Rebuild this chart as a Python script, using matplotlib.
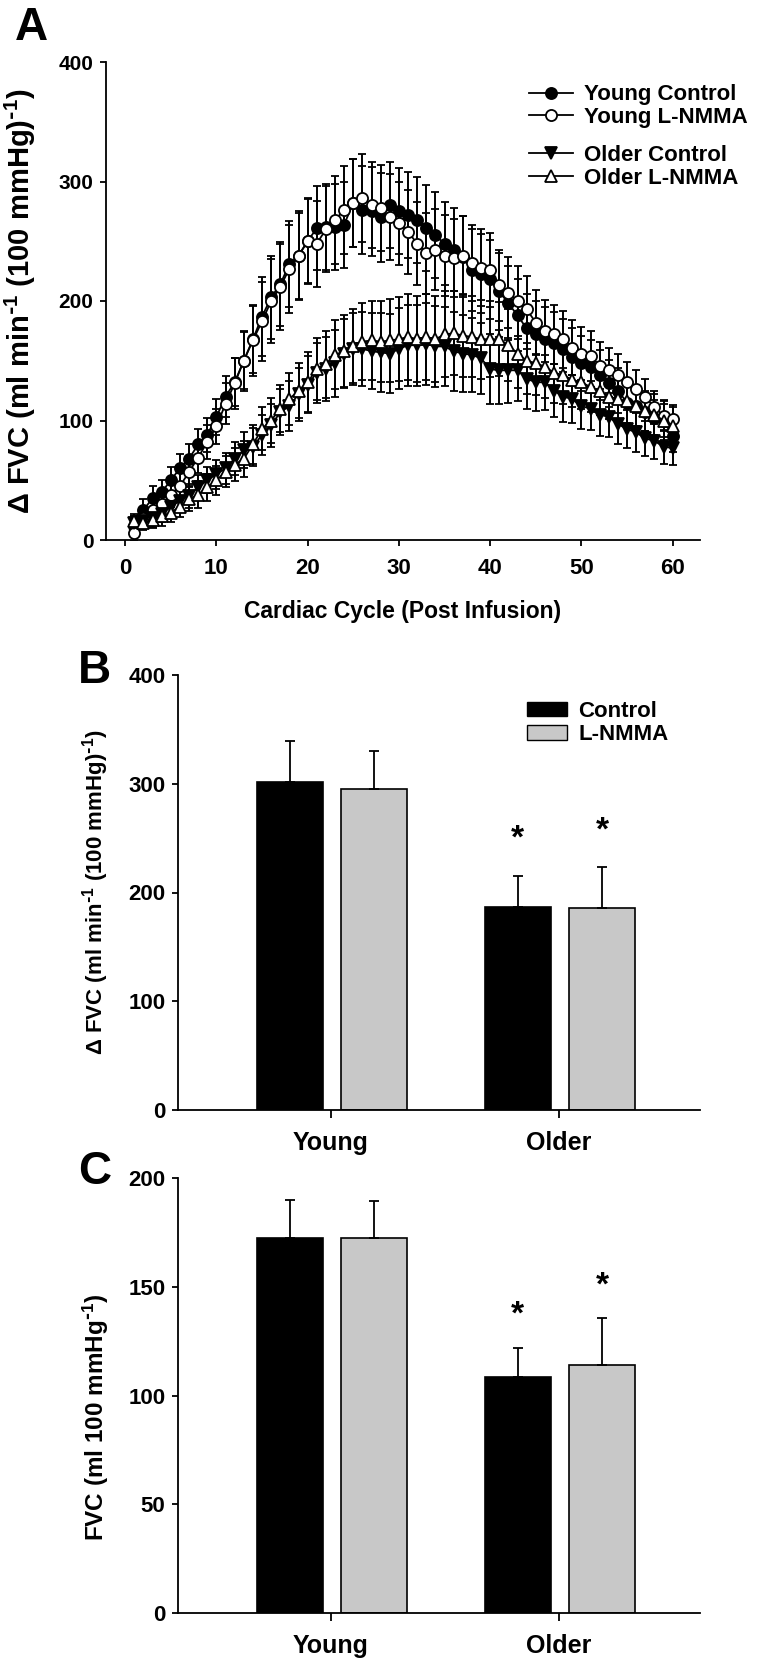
import numpy as np
import matplotlib
matplotlib.use("Agg")
import matplotlib.pyplot as plt
from matplotlib.lines import Line2D
from matplotlib.patches import Patch

plt.rcParams['font.family'] = ['Liberation Sans', 'DejaVu Sans']
plt.rcParams['font.weight'] = 'bold'
plt.rcParams['axes.labelweight'] = 'bold'
plt.rcParams['mathtext.default'] = 'regular'
plt.rcParams['axes.linewidth'] = 1.3

# ---- Panel A: beat-by-beat response (mean, SEM) ----
cycles = list(range(1, 61))
young_ctrl = [12, 25, 35, 40, 50, 60, 68, 80, 88, 103,
              120, 132, 150, 168, 187, 203, 214, 231, 238, 250,
              261, 262, 262, 264, 282, 276, 275, 270, 280, 275,
              272, 268, 261, 255, 248, 243, 237, 226, 223, 218,
              208, 198, 188, 177, 172, 168, 165, 160, 153, 148,
              145, 138, 131, 125, 115, 112, 107, 102, 100, 87]
young_ctrl_sem = [8, 9, 10, 10, 11, 12, 12, 13, 14, 15,
                  17, 20, 24, 28, 33, 35, 35, 36, 36, 35,
                  35, 36, 36, 36, 37, 37, 37, 37, 36, 36,
                  36, 36, 36, 36, 35, 35, 34, 34, 33, 33,
                  32, 31, 30, 29, 28, 27, 26, 25, 24, 23,
                  22, 21, 20, 19, 18, 17, 16, 15, 14, 13]
young_lnmma = [6, 18, 25, 30, 38, 45, 57, 69, 82, 95,
               114, 131, 150, 167, 183, 200, 212, 227, 238, 250,
               248, 260, 268, 276, 282, 286, 280, 278, 270, 265,
               258, 248, 240, 243, 238, 236, 238, 232, 228, 226,
               213, 207, 200, 193, 182, 175, 172, 168, 161, 156,
               154, 146, 142, 138, 132, 126, 120, 111, 104, 101]
young_lnmma_sem = [7, 8, 9, 10, 10, 11, 12, 13, 14, 15,
                   17, 21, 25, 30, 33, 35, 36, 37, 37, 36,
                   36, 36, 37, 37, 37, 37, 36, 36, 36, 35,
                   35, 35, 34, 34, 34, 33, 33, 32, 32, 31,
                   30, 30, 29, 28, 27, 26, 25, 24, 23, 22,
                   21, 20, 19, 18, 17, 16, 15, 14, 13, 12]
older_ctrl = [14, 16, 18, 22, 28, 33, 37, 44, 50, 55,
              60, 68, 75, 78, 88, 96, 107, 112, 122, 130,
              140, 143, 148, 156, 160, 160, 158, 157, 156, 160,
              163, 163, 164, 162, 162, 158, 156, 155, 152, 143,
              142, 142, 142, 135, 132, 132, 125, 120, 118, 112,
              110, 105, 103, 97, 93, 90, 85, 83, 78, 77]
older_ctrl_sem = [6, 6, 7, 7, 8, 9, 10, 10, 11, 12,
                  13, 14, 15, 16, 17, 18, 19, 21, 22, 24,
                  25, 27, 28, 29, 30, 31, 32, 33, 33, 34,
                  34, 34, 34, 34, 33, 33, 32, 31, 30, 29,
                  28, 27, 26, 25, 24, 23, 22, 21, 20, 19,
                  18, 18, 17, 17, 16, 16, 15, 15, 14, 14]
older_lnmma = [16, 14, 17, 20, 23, 28, 34, 38, 44, 50,
               57, 63, 68, 80, 93, 100, 110, 118, 125, 132,
               143, 147, 155, 158, 162, 166, 167, 166, 167, 168,
               170, 168, 170, 168, 172, 173, 171, 170, 168, 168,
               168, 163, 156, 150, 148, 145, 140, 138, 134, 132,
               128, 125, 120, 118, 116, 112, 108, 105, 100, 95]
older_lnmma_sem = [6, 6, 7, 8, 8, 9, 10, 11, 11, 12,
                   13, 14, 15, 16, 18, 19, 20, 22, 23, 25,
                   26, 28, 29, 30, 31, 32, 33, 34, 35, 35,
                   36, 36, 36, 36, 36, 35, 35, 34, 33, 32,
                   31, 30, 29, 28, 27, 26, 25, 24, 23, 22,
                   21, 20, 19, 19, 18, 18, 17, 17, 16, 16]

# ---- Panels B and C: group means (SEM) ----
groups = ['Young', 'Older']
dfvc_ctrl = [302, 187]
dfvc_ctrl_sem = [37, 28]
dfvc_lnmma = [295, 186]
dfvc_lnmma_sem = [35, 37]
fvc_ctrl = [172.5, 108.5]
fvc_ctrl_sem = [17.5, 13.5]
fvc_lnmma = [172.5, 114]
fvc_lnmma_sem = [17, 21.5]

DFVC_LABEL = r'Δ FVC (ml min$^{\text{-}1}$ (100 mmHg)$^{\text{-}1}$)'
FVC_LABEL = r'FVC (ml 100 mmHg$^{\text{-}1}$)'

W, H = 776, 1659
fig = plt.figure(figsize=(W / 100, H / 100), dpi=100)


def box(l, t, r, b):
    return [l / W, 1 - b / H, (r - l) / W, (b - t) / H]


def style_axes(ax):
    ax.spines['top'].set_visible(False)
    ax.spines['right'].set_visible(False)
    ax.tick_params(direction='out', length=4.6, width=1.3, pad=4.5)


# ---------- A ----------
axA = fig.add_axes(box(106, 62, 700, 540))
series = [
    (young_ctrl, young_ctrl_sem, 'o', 'black', 'Young Control', 8),
    (young_lnmma, young_lnmma_sem, 'o', 'white', 'Young L-NMMA', 8),
    (older_ctrl, older_ctrl_sem, 'v', 'black', 'Older Control', 8),
    (older_lnmma, older_lnmma_sem, '^', 'white', 'Older L-NMMA', 8),
]
for vals, sem, mk, fc, lab, ms in series:
    axA.errorbar(cycles, vals, yerr=sem, color='black', lw=1.3, marker=mk,
                 ms=ms, mfc=fc, mec='black', mew=1.3, elinewidth=1.4,
                 capsize=3, capthick=1.4)
axA.set_xlim(-2.1, 63)
axA.set_ylim(0, 400)
axA.set_xticks(range(0, 61, 10))
axA.set_yticks(range(0, 401, 100))
style_axes(axA)
axA.tick_params(axis='x', pad=8, labelsize=16)
axA.tick_params(axis='y', labelsize=15)
axA.set_xlabel('Cardiac Cycle (Post Infusion)', fontsize=16.5)
axA.xaxis.set_label_coords(0.5, -0.126)
axA.set_ylabel(DFVC_LABEL, fontsize=21)
axA.yaxis.set_label_coords(-0.114, 0.5)

hs = []
for vals, sem, mk, fc, lab, ms in series:
    hs.append(Line2D([], [], color='black', lw=1.3, marker=mk, ms=ms,
                     mfc=fc, mec='black', mew=1.3))
labs = [s[4] for s in series]
kw = dict(frameon=False, handlelength=2.0, handletextpad=0.5,
          labelspacing=0.08, borderpad=0, borderaxespad=0, fontsize=16,
          loc='upper left')
leg1 = axA.legend(hs[:2], labs[:2], bbox_to_anchor=(0.712, 0.953), **kw)
axA.add_artist(leg1)
axA.legend(hs[2:], labs[2:], bbox_to_anchor=(0.712, 0.826), **kw)


# ---------- B & C ----------
def bar_panel(ax, ctrl, ctrl_sem, lnmma, lnmma_sem, ymax, step, star_off):
    x = np.arange(len(groups))
    w = 0.29
    xc = x - 0.18
    xl = x + 0.19
    ekw = dict(elinewidth=1.3, capthick=1.3, ecolor='black')
    ax.bar(xc, ctrl, w, color='black', edgecolor='black', lw=1.2,
           yerr=[np.zeros(len(ctrl)), ctrl_sem], capsize=3.6, error_kw=ekw,
           label='Control')
    ax.bar(xl, lnmma, w, color='#c8c8c8', edgecolor='black', lw=1.2,
           yerr=[np.zeros(len(lnmma)), lnmma_sem], capsize=3.6, error_kw=ekw,
           label='L-NMMA')
    # older vs young
    ax.text(xc[1], ctrl[1] + ctrl_sem[1] + star_off, '*', ha='center',
            va='baseline', fontsize=24, fontweight='bold')
    ax.text(xl[1], lnmma[1] + lnmma_sem[1] + star_off, '*', ha='center',
            va='baseline', fontsize=24, fontweight='bold')
    ax.set_xlim(-0.67, 1.62)
    ax.set_ylim(0, ymax)
    ax.set_yticks(np.arange(0, ymax + 1, step))
    ax.set_xticks(x)
    ax.set_xticklabels(groups)
    style_axes(ax)
    ax.tick_params(axis='x', length=6, pad=9, labelsize=18)
    ax.tick_params(axis='y', labelsize=16)


axB = fig.add_axes(box(178, 675, 700, 1110))
bar_panel(axB, dfvc_ctrl, dfvc_ctrl_sem, dfvc_lnmma, dfvc_lnmma_sem,
          400, 100, 26)
axB.set_ylabel(DFVC_LABEL, fontsize=16)
axB.yaxis.set_label_coords(-0.128, 0.5)
axB.legend(handles=[Patch(facecolor='black', edgecolor='black'),
                    Patch(facecolor='#c8c8c8', edgecolor='black')],
           labels=['Control', 'L-NMMA'], loc='upper left',
           bbox_to_anchor=(0.669, 0.94), frameon=False, handlelength=1.8,
           handleheight=0.6, handletextpad=0.5, labelspacing=0.1,
           borderpad=0, borderaxespad=0,
           prop=dict(size=16, weight='bold'))

axC = fig.add_axes(box(178, 1178, 700, 1613))
bar_panel(axC, fvc_ctrl, fvc_ctrl_sem, fvc_lnmma, fvc_lnmma_sem,
          200, 50, 11)
axC.set_ylabel(FVC_LABEL, fontsize=17.5)
axC.yaxis.set_label_coords(-0.128, 0.45)

# panel letters
fig.text(15 / W, 1 - 40 / H, 'A', fontsize=33, fontweight='bold')
fig.text(78 / W, 1 - 683 / H, 'B', fontsize=33, fontweight='bold')
fig.text(78 / W, 1 - 1184 / H, 'C', fontsize=33, fontweight='bold')

fig.savefig('out.png', dpi=100)
